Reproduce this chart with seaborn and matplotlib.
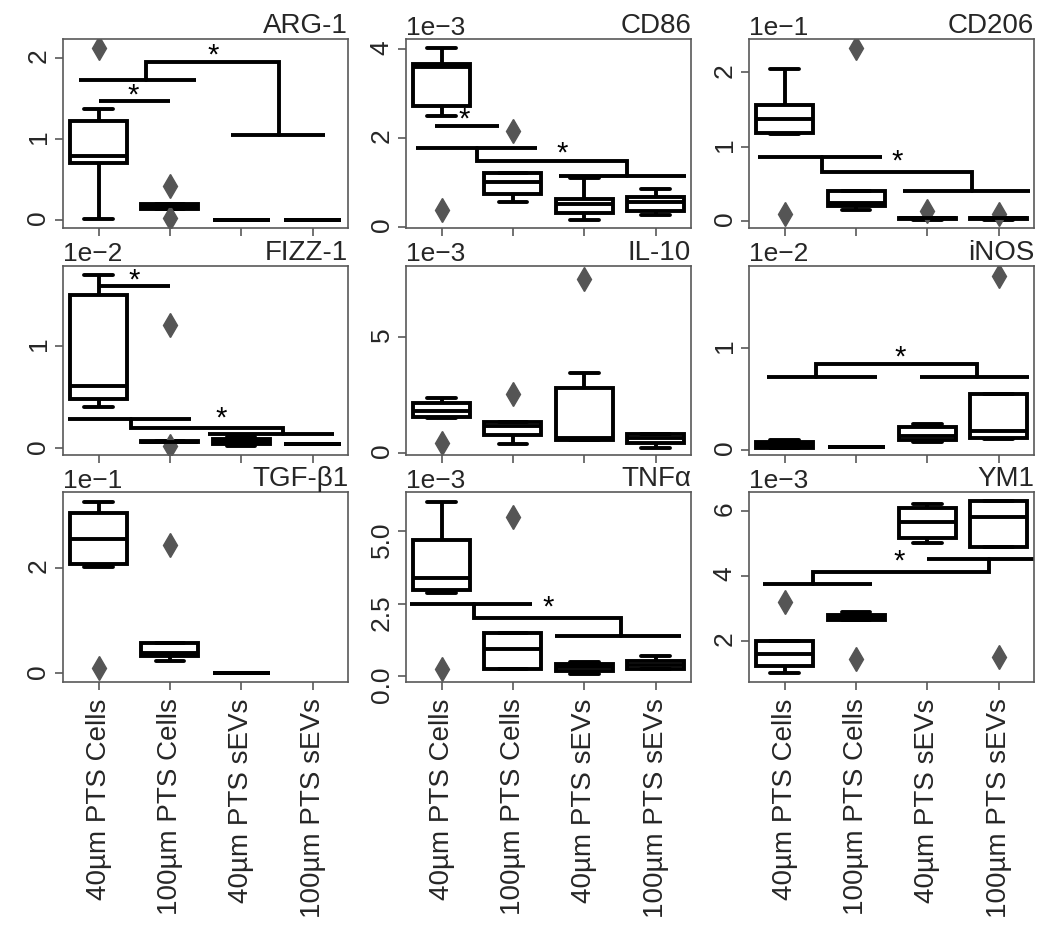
import numpy as np
import pandas as pd
import matplotlib
matplotlib.use("Agg")
import matplotlib.pyplot as plt
import seaborn as sns

GROUPS = ["40µm PTS Cells", "100µm PTS Cells", "40µm PTS sEVs", "100µm PTS sEVs"]
MARKERS = ["ARG-1", "CD86", "CD206", "FIZZ-1", "IL-10", "iNOS", "TGF-β1", "TNFα", "YM1"]
SCALE = [1, 1e-3, 1e-1, 1e-2, 1e-3, 1e-2, 1e-1, 1e-3, 1e-3]

# box summaries, in the units shown on each axis
# (one value per group; None = no data)
WHISK_LO = {
    "ARG-1": [0.02, 0.14, 0.0, 0.0],
    "CD86": [2.49, 0.55, 0.15, 0.27],
    "CD206": [1.17, 0.15, 0.02, 0.02],
    "FIZZ-1": [0.40, 0.06, 0.02, 0.04],
    "IL-10": [1.50, 0.36, 0.55, 0.19],
    "iNOS": [0.02, 0.03, 0.08, 0.11],
    "TGF-β1": [2.02, 0.23, 0.0, None],
    "TNFα": [2.88, 0.23, 0.08, 0.25],
    "YM1": [1.03, 2.65, 5.00, 4.88],
}
Q1 = {
    "ARG-1": [0.70, 0.14, 0.0, 0.0],
    "CD86": [2.72, 0.74, 0.30, 0.36],
    "CD206": [1.19, 0.20, 0.03, 0.03],
    "FIZZ-1": [0.48, 0.06, 0.04, 0.04],
    "IL-10": [1.55, 0.76, 0.55, 0.43],
    "iNOS": [0.02, 0.03, 0.10, 0.12],
    "TGF-β1": [2.08, 0.32, 0.0, None],
    "TNFα": [2.98, 0.23, 0.17, 0.25],
    "YM1": [1.24, 2.65, 5.15, 4.88],
}
MEDIAN = {
    "ARG-1": [0.79, 0.17, 0.0, 0.0],
    "CD86": [3.60, 1.00, 0.51, 0.55],
    "CD206": [1.37, 0.25, 0.04, 0.04],
    "FIZZ-1": [0.61, 0.065, 0.07, 0.04],
    "IL-10": [1.80, 1.15, 0.65, 0.65],
    "iNOS": [0.05, 0.03, 0.14, 0.19],
    "TGF-β1": [2.54, 0.39, 0.0, None],
    "TNFα": [3.39, 0.94, 0.30, 0.39],
    "YM1": [1.60, 2.75, 5.64, 5.80],
}
Q3 = {
    "ARG-1": [1.22, 0.20, 0.0, 0.0],
    "CD86": [3.68, 1.21, 0.63, 0.66],
    "CD206": [1.56, 0.41, 0.05, 0.05],
    "FIZZ-1": [1.49, 0.07, 0.09, 0.04],
    "IL-10": [2.14, 1.34, 2.81, 0.79],
    "iNOS": [0.08, 0.03, 0.22, 0.55],
    "TGF-β1": [3.03, 0.57, 0.0, None],
    "TNFα": [4.69, 1.50, 0.40, 0.51],
    "YM1": [2.00, 2.80, 6.09, 6.28],
}
WHISK_HI = {
    "ARG-1": [1.37, 0.20, 0.0, 0.0],
    "CD86": [4.04, 1.21, 1.10, 0.84],
    "CD206": [2.05, 0.41, 0.05, 0.05],
    "FIZZ-1": [1.69, 0.07, 0.11, 0.04],
    "IL-10": [2.38, 1.34, 3.42, 0.79],
    "iNOS": [0.10, 0.03, 0.25, 0.55],
    "TGF-β1": [3.25, 0.57, 0.0, None],
    "TNFα": [6.00, 1.50, 0.48, 0.69],
    "YM1": [2.00, 2.90, 6.20, 6.28],
}
OUT_LO = {
    "ARG-1": [None, 0.03, None, None],
    "CD86": [0.38, None, None, None],
    "CD206": [0.10, None, None, None],
    "FIZZ-1": [None, 0.02, None, None],
    "IL-10": [0.43, None, None, None],
    "iNOS": [None, None, None, None],
    "TGF-β1": [0.11, None, None, None],
    "TNFα": [0.23, None, None, None],
    "YM1": [None, 1.44, None, 1.51],
}
OUT_HI = {
    "ARG-1": [2.12, 0.42, None, None],
    "CD86": [None, 2.15, None, None],
    "CD206": [None, 2.33, 0.14, 0.10],
    "FIZZ-1": [None, 1.20, None, None],
    "IL-10": [None, 2.52, 7.50, None],
    "iNOS": [None, None, None, 1.70],
    "TGF-β1": [None, 2.44, None, None],
    "TNFα": [None, 5.50, None, None],
    "YM1": [3.20, None, None, None],
}

YLIM = {
    "ARG-1": (-0.1, 2.23), "CD86": (-0.04, 4.24), "CD206": (-0.095, 2.45),
    "FIZZ-1": (-0.065, 1.78), "IL-10": (-0.1, 8.07), "iNOS": (-0.05, 1.8),
    "TGF-β1": (-0.16, 3.43), "TNFα": (-0.2, 6.34), "YM1": (0.75, 6.56),
}

# significance marks: plain bars (x0, x1, y), elbow connectors, stars (x, y)
BARS = {
    "ARG-1": [(-0.27, 1.37, 1.72), (1.86, 3.18, 1.05), (0.01, 1.0, 1.46)],
    "CD86": [(-0.1, 0.8, 2.27), (-0.36, 1.34, 1.78), (1.65, 3.42, 1.15)],
    "CD206": [(-0.38, 1.37, 0.86), (1.66, 3.44, 0.41)],
    "FIZZ-1": [(0.01, 1.0, 1.58), (-0.43, 1.29, 0.29), (1.53, 3.3, 0.14)],
    "iNOS": [(-0.25, 1.3, 0.71), (1.9, 3.42, 0.71)],
    "TNFα": [(-0.45, 1.27, 2.5), (1.59, 3.35, 1.37)],
    "YM1": [(-0.31, 1.22, 3.75), (1.99, 3.5, 4.5)],
}
ELBOWS = {
    "ARG-1": ([0.67, 0.67, 2.53, 2.53], [1.72, 1.94, 1.94, 1.05]),
    "CD86": ([0.5, 0.5, 2.6, 2.6], [1.78, 1.48, 1.48, 1.15]),
    "CD206": ([0.52, 0.52, 2.63, 2.63], [0.86, 0.66, 0.66, 0.41]),
    "FIZZ-1": ([0.45, 0.45, 2.58, 2.58], [0.29, 0.20, 0.20, 0.14]),
    "iNOS": ([0.44, 0.44, 2.69, 2.69], [0.71, 0.84, 0.84, 0.71]),
    "TNFα": ([0.45, 0.45, 2.52, 2.52], [2.5, 2.0, 2.0, 1.37]),
    "YM1": ([0.4, 0.4, 2.86, 2.86], [3.75, 4.13, 4.13, 4.5]),
}
STARS = {
    "ARG-1": [(1.6, 2.02), (0.48, 1.53)],
    "CD86": [(0.32, 2.42), (1.69, 1.66)],
    "CD206": [(1.58, 0.80)],
    "FIZZ-1": [(0.5, 1.63), (1.72, 0.29)],
    "iNOS": [(1.62, 0.90)],
    "TNFα": [(1.5, 2.35)],
    "YM1": [(1.6, 4.45)],
}


def box_sample(lo, q1, med, q3, hi, out_lo, out_hi):
    # nine values whose quartiles/whiskers reproduce the box
    vals = [lo, lo, q1, (q1 + med) / 2, med, (med + q3) / 2, q3, hi, hi]
    if out_lo is not None:
        vals[0] = out_lo
    if out_hi is not None:
        vals[-1] = out_hi
    return vals


rows = []
for marker, scale in zip(MARKERS, SCALE):
    for i, group in enumerate(GROUPS):
        if Q1[marker][i] is None:
            continue
        vals = box_sample(WHISK_LO[marker][i], Q1[marker][i], MEDIAN[marker][i],
                          Q3[marker][i], WHISK_HI[marker][i],
                          OUT_LO[marker][i], OUT_HI[marker][i])
        for v in vals:
            rows.append({"marker": marker, "group": group, "value": v * scale})
df = pd.DataFrame(rows)

sns.set_theme(style="ticks")
plt.rcParams["font.family"] = ["Liberation Sans", "DejaVu Sans"]
plt.rcParams["axes.edgecolor"] = "0.35"
plt.rcParams["axes.linewidth"] = 1.2

FS = 19

fig, axes = plt.subplots(3, 3, figsize=(10.5, 9.47), dpi=100)
fig.subplots_adjust(left=0.060, right=0.985, top=0.959, bottom=0.280,
                    wspace=0.203, hspace=0.196)

for idx, (ax, marker, scale) in enumerate(zip(axes.flat, MARKERS, SCALE)):
    sub = df[df["marker"] == marker]
    sns.boxplot(
        data=sub, x="group", y="value", order=GROUPS, ax=ax,
        color="white", linecolor="black", linewidth=2.8, width=0.8,
        fliersize=12,
        flierprops={"marker": "d", "markerfacecolor": "#555555",
                    "markeredgecolor": "#555555"},
    )

    for x0, x1, y in BARS.get(marker, []):
        ax.plot([x0, x1], [y * scale, y * scale], color="black", lw=2.8,
                solid_capstyle="butt")
    if marker in ELBOWS:
        ex, ey = ELBOWS[marker]
        ax.plot(ex, [v * scale for v in ey], color="black", lw=2.8,
                solid_joinstyle="miter")
    for sx, sy in STARS.get(marker, []):
        ax.text(sx, sy * scale, "*", ha="center", va="center", fontsize=FS + 2,
                color="black")

    lo, hi = YLIM[marker]
    ax.set_ylim(lo * scale, hi * scale)
    ax.set_xlim(-0.5, 3.5)
    ax.yaxis.set_major_locator(plt.MaxNLocator(nbins=3, steps=[1, 2, 2.5, 5, 10]))
    ax.ticklabel_format(axis="y", style="sci", scilimits=(0, 0))
    ax.yaxis.get_offset_text().set_fontsize(FS)

    ax.set_title(marker, loc="right", fontsize=FS + 1, pad=2)
    ax.set_xlabel("")
    ax.set_ylabel("")
    ax.tick_params(axis="both", length=6, width=1.2, color="0.35",
                   labelsize=FS, pad=3)
    ax.tick_params(axis="y", labelrotation=90)
    if idx < 6:
        ax.tick_params(axis="x", labelbottom=False)
    else:
        ax.tick_params(axis="x", labelrotation=90, labelsize=FS + 1, pad=6)
    for spine in ax.spines.values():
        spine.set_visible(True)

fig.savefig("out.png", dpi=100)
